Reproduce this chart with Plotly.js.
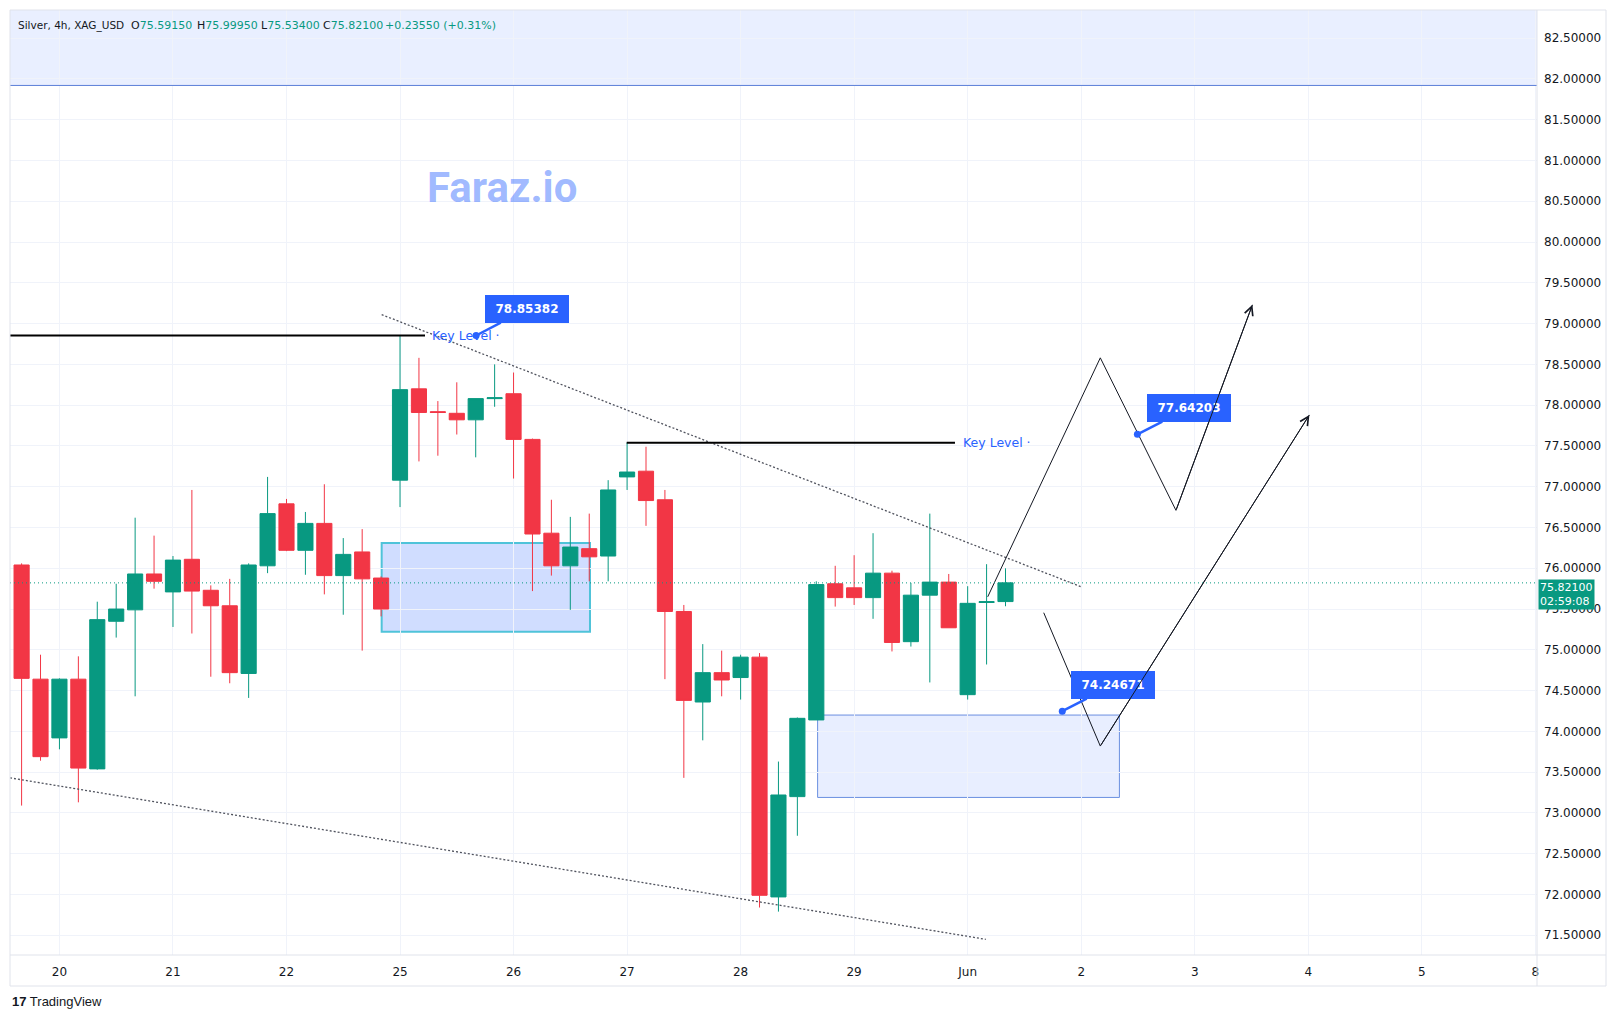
<!DOCTYPE html>
<html><head><meta charset="utf-8">
<script src="https://cdn.plot.ly/plotly-3.0.1.min.js"></script>
<style>html,body{margin:0;padding:0;background:#fff;}#chart{width:1615px;height:1021px;}</style>
</head><body><div id="chart"></div>
<script>
// ---- data (4h candles, index = bar number) ----
const candleX = [0,1,2,3,4,5,6,7,8,9,10,11,12,13,14,15,16,17,18,19,20,21,22,23,24,25,26,27,28,29,30,31,32,33,34,35,36,37,38,39,40,41,42,43,44,45,46,47,48,49,50,51,52];
const openP  = [76.04,74.64,73.92,74.64,73.54,75.35,75.49,75.93,75.71,76.11,75.73,75.54,74.71,76.03,76.79,76.22,76.55,75.91,76.20,75.88,77.08,78.20,77.92,77.90,77.82,78.08,78.14,77.58,76.43,76.03,76.24,76.15,77.12,77.19,76.84,75.47,74.36,74.72,74.66,74.91,71.97,73.20,74.14,75.81,75.76,75.64,75.94,75.10,75.67,75.83,74.45,75.58,75.5915];
const highP  = [76.06,74.94,74.65,74.92,75.59,75.81,76.62,76.40,76.15,76.96,75.79,75.87,76.06,77.12,76.85,76.69,77.03,76.37,76.48,75.90,78.85,78.58,78.05,78.28,78.08,78.50,78.40,77.59,76.84,76.63,76.67,77.08,77.54,77.49,76.96,75.55,75.07,74.99,74.94,74.96,73.63,74.17,75.84,76.03,76.16,76.43,75.97,75.82,76.67,75.93,75.78,76.05,75.9995];
const lowP   = [73.09,73.64,73.78,73.13,73.53,75.15,74.43,75.75,75.28,75.20,74.67,74.59,74.41,75.94,76.21,75.92,75.68,75.43,74.99,75.41,76.75,77.31,77.38,77.64,77.36,77.98,77.10,75.72,75.91,75.49,75.84,75.84,76.96,76.52,74.64,73.43,73.89,74.43,74.39,71.84,71.79,72.72,74.14,75.53,75.55,75.38,74.98,75.04,74.60,75.27,74.39,74.82,75.534];
const closeP = [74.65,73.69,74.64,73.55,75.37,75.50,75.93,75.84,76.10,75.72,75.54,74.72,76.04,76.67,76.22,76.55,75.91,76.17,75.87,75.50,78.19,77.91,77.91,77.82,78.08,78.09,77.58,76.42,76.03,76.26,76.14,76.96,77.18,76.83,75.47,74.38,74.72,74.63,74.91,71.99,73.22,74.16,75.80,75.64,75.64,75.94,75.09,75.67,75.83,75.27,75.57,75.59,75.821];
const prevClose = 75.5855;

const dayTickPos  = [2,8,14,20,26,32,38,44,50,56,62,68,74,80];
const dayTickText = ['20','21','22','25','26','27','28','29','Jun','2','3','4','5','8'];
const priceTicks  = [71.5,72,72.5,73,73.5,74,74.5,75,75.5,76,76.5,77,77.5,78,78.5,79,79.5,80,80.5,81,81.5,82,82.5];

// drawings
const upperTrendX = [19.03, 56.03], upperTrendY = [79.11, 75.77];
const lowerTrendX = [-0.61, 50.96], lowerTrendY = [73.43, 71.45];
const keyLevel1X = [-0.62, 21.32], keyLevel1Y = [78.854, 78.854];
const keyLevel2X = [31.98, 49.33], keyLevel2Y = [77.54, 77.54];
const pathAX = [51.06, 57.01, 61.01, 65.05], pathAY = [75.65, 78.58, 76.71, 79.23];
const pathBX = [54.02, 57.01, 68.06], pathBY = [75.455, 73.82, 77.88];
const zoneUpperX = [19.03, 30.04], zoneUpperY = [75.22, 76.31];
const zoneLowerX = [42.07, 58.02], zoneLowerY = [73.19, 74.20];
const topBandY = [81.92, 83.2];
const calloutText   = ['78.85382','77.64203','74.24671'];
const calloutPointX = [24.02, 58.97, 55.0];
const calloutPointY = [78.854, 77.642, 74.247];
const calloutBoxX   = [26.71, 61.70, 57.69];
const calloutBoxY   = [79.176, 77.962, 74.566];
const keyLabelX = [21.59, 49.64], keyLabelY = [78.854, 77.54];

// ---- layout geometry ----
const W = 1615, H = 1021, PL = 10, PT = 10, PW = 1527, PH = 945;
const px = v => (v - PL) / PW;
const py = v => (PT + PH - v) / PH;

const UP = '#089981', DN = '#f23645', BLUE = '#2962ff', TXT = '#131722', GRID = '#f0f3fa', FRAME = '#e0e3eb';
const FONT = 'DejaVu Sans, Verdana, sans-serif';

const traces = [
  {type:'candlestick', x:candleX, open:openP, high:highP, low:lowP, close:closeP,
   increasing:{line:{color:UP,width:1}, fillcolor:UP},
   decreasing:{line:{color:DN,width:1}, fillcolor:DN},
   whiskerwidth:0, hoverinfo:'skip', showlegend:false},
  {type:'scatter', mode:'lines', x:upperTrendX, y:upperTrendY, line:{color:'#50535e', width:1.3, dash:'2px,2px'}, hoverinfo:'skip'},
  {type:'scatter', mode:'lines', x:lowerTrendX, y:lowerTrendY, line:{color:'#50535e', width:1.3, dash:'2px,2px'}, hoverinfo:'skip'},
  {type:'scatter', mode:'lines', x:keyLevel1X, y:keyLevel1Y, line:{color:'#000', width:2}, hoverinfo:'skip'},
  {type:'scatter', mode:'lines', x:keyLevel2X, y:keyLevel2Y, line:{color:'#000', width:2}, hoverinfo:'skip'},
  {type:'scatter', mode:'lines', x:pathAX, y:pathAY, line:{color:'#131722', width:1}, hoverinfo:'skip'},
  {type:'scatter', mode:'lines', x:pathBX, y:pathBY, line:{color:'#131722', width:1}, hoverinfo:'skip'}
];

const lastClose = closeP[closeP.length-1];
const shapes = [
  {type:'rect', xref:'paper', x0:0, x1:1, yref:'y', y0:topBandY[0], y1:topBandY[1], fillcolor:'rgba(41,98,255,0.10)', line:{width:0}, layer:'below'},
  {type:'line', xref:'paper', x0:0, x1:1, yref:'y', y0:topBandY[0], y1:topBandY[0], line:{color:'#5b7fd8', width:1}},
  {type:'rect', xref:'x', yref:'y', x0:zoneUpperX[0], x1:zoneUpperX[1], y0:zoneUpperY[0], y1:zoneUpperY[1], fillcolor:'rgba(41,98,255,0.22)', line:{color:'#4fc3d9', width:2}, layer:'below'},
  {type:'rect', xref:'x', yref:'y', x0:zoneLowerX[0], x1:zoneLowerX[1], y0:zoneLowerY[0], y1:zoneLowerY[1], fillcolor:'rgba(41,98,255,0.11)', line:{color:'#6a8fe0', width:1}, layer:'below'},
  {type:'line', xref:'paper', x0:0, x1:1, yref:'y', y0:lastClose, y1:lastClose, line:{color:UP, width:1, dash:'1px,3px'}},
  // frame
  {type:'line', xref:'paper', yref:'paper', x0:1, x1:1, y0:py(986), y1:1, line:{color:FRAME, width:1}},
  {type:'line', xref:'paper', yref:'paper', x0:0, x1:px(1606), y0:0, y1:0, line:{color:FRAME, width:1}},
  {type:'rect', xref:'paper', yref:'paper', x0:0, x1:px(1606), y0:py(986), y1:1, line:{color:FRAME, width:1}, fillcolor:'rgba(0,0,0,0)'}
];

const annotations = [];
// callouts
for (let k = 0; k < calloutText.length; k++) {
  annotations.push({x:calloutPointX[k], y:calloutPointY[k], xref:'x', yref:'y',
    ax:calloutBoxX[k], ay:calloutBoxY[k], axref:'x', ayref:'y',
    text:'<b>'+calloutText[k]+'</b>', showarrow:true, arrowhead:6, arrowsize:0.7, arrowwidth:2.5, arrowcolor:BLUE,
    bgcolor:BLUE, bordercolor:BLUE, borderpad:5, width:72, height:16,
    font:{family:FONT, size:12, color:'#fff'}});
}
// key level labels
for (let k = 0; k < keyLabelX.length; k++) {
  annotations.push({x:keyLabelX[k], y:keyLabelY[k], xref:'x', yref:'y', xanchor:'left', yanchor:'middle',
    text:'Key Level ·', showarrow:false, font:{family:FONT, size:12.5, color:BLUE}});
}
// arrowheads of the projected paths
annotations.push({x:pathAX[3], y:pathAY[3], ax:pathAX[2], ay:pathAY[2], xref:'x', yref:'y', axref:'x', ayref:'y',
  text:'', showarrow:true, arrowhead:5, arrowsize:1.7, arrowwidth:1, arrowcolor:'#131722'});
annotations.push({x:pathBX[2], y:pathBY[2], ax:pathBX[1], ay:pathBY[1], xref:'x', yref:'y', axref:'x', ayref:'y',
  text:'', showarrow:true, arrowhead:5, arrowsize:1.7, arrowwidth:1, arrowcolor:'#131722'});
// watermark
annotations.push({xref:'paper', yref:'paper', x:px(502), y:py(187), xanchor:'center', yanchor:'middle',
  text:'<b>Faraz.io</b>', showarrow:false,
  font:{family:'Roboto, sans-serif', size:42, color:'rgba(41,98,255,0.45)'}});
// header
const chg = lastClose - prevClose;
const hdr = [
  [17, '<span style="color:'+TXT+'">Silver, 4h, XAG_USD</span>', 10.5],
  [130, 'O<span style="color:'+UP+'">'+openP[52].toFixed(5)+'</span>', 11],
  [196, 'H<span style="color:'+UP+'">'+highP[52].toFixed(5)+'</span>', 11],
  [260, 'L<span style="color:'+UP+'">'+lowP[52].toFixed(5)+'</span>', 11],
  [322, 'C<span style="color:'+UP+'">'+closeP[52].toFixed(5)+'</span>', 11],
  [384, '<span style="color:'+UP+'">+'+chg.toFixed(5)+' (+'+(chg/prevClose*100).toFixed(2)+'%)</span>', 11]
];
hdr.forEach(h => annotations.push({xref:'paper', yref:'paper', x:px(h[0]), y:py(25), xanchor:'left', yanchor:'middle',
  text:h[1], showarrow:false, borderpad:0, font:{family:FONT, size:h[2], color:TXT}}));
// last price label
annotations.push({xref:'paper', yref:'y', x:1, y:lastClose, xanchor:'left', yanchor:'top', xshift:1, yshift:4,
  text:lastClose.toFixed(5)+'<br>02:59:08', showarrow:false, align:'left', bgcolor:UP, borderpad:1,
  font:{family:FONT, size:11, color:'#fff'}});
// logo
annotations.push({xref:'paper', yref:'paper', x:px(10), y:py(1002), xanchor:'left', yanchor:'middle',
  text:'<b>17</b> TradingView', showarrow:false, font:{family:'Liberation Sans, Arial, sans-serif', size:13, color:TXT}});

const layout = {
  width:W, height:H, margin:{l:PL, r:W-PL-PW, t:PT, b:H-PT-PH, pad:0},
  paper_bgcolor:'#fff', plot_bgcolor:'#fff', showlegend:false, hovermode:false, dragmode:false,
  boxgap:0.2, boxgroupgap:0,
  xaxis:{type:'linear', range:[-0.613, 80.09], tickmode:'array', tickvals:dayTickPos, ticktext:dayTickText,
    showgrid:true, gridcolor:GRID, gridwidth:1, zeroline:false, showline:false, ticks:'',
    ticklabelstandoff:8, tickfont:{family:FONT, size:12, color:TXT}, rangeslider:{visible:false}, fixedrange:true},
  yaxis:{type:'linear', side:'right', range:[71.258, 82.845], tickmode:'array', tickvals:priceTicks,
    ticktext:priceTicks.map(v => v.toFixed(5)), showgrid:true, gridcolor:GRID, gridwidth:1, zeroline:false,
    showline:false, ticks:'', ticklabelstandoff:6, tickfont:{family:FONT, size:12, color:TXT}, fixedrange:true},
  shapes:shapes, annotations:annotations
};

Plotly.newPlot('chart', traces, layout, {displayModeBar:false, staticPlot:true});
</script></body></html>
